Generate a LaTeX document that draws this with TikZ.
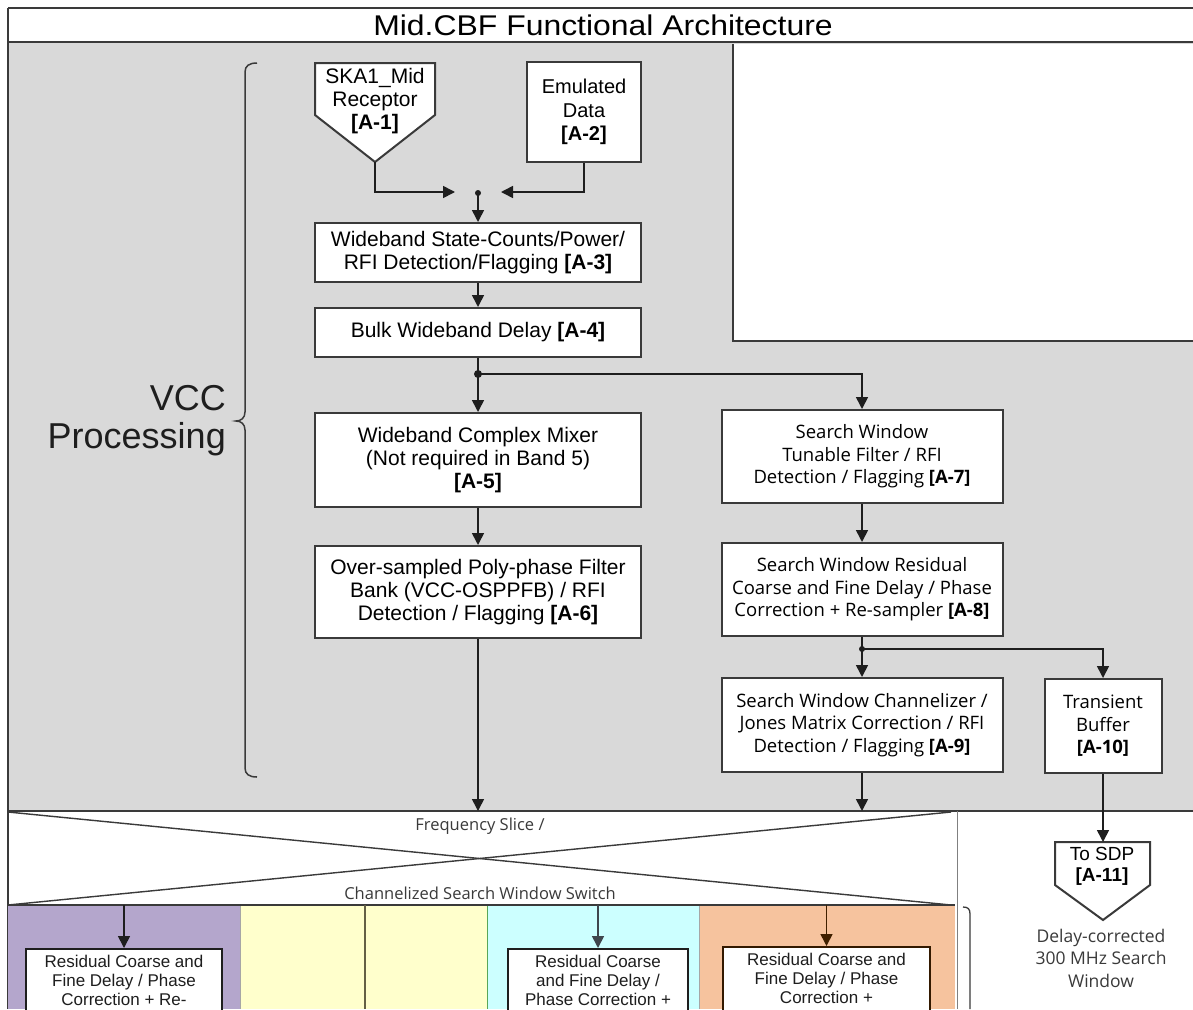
\documentclass[tikz,border=0pt]{standalone}
\usepackage{fontspec}
\setmainfont{Liberation Sans}
\newfontfamily\osans{Open Sans}
\newfontfamily\titlefont[FakeStretch=1.12]{Liberation Sans}
\usetikzlibrary{arrows.meta}
\definecolor{bggray}{HTML}{D9D9D9}
\definecolor{edge}{HTML}{3A3A3A}
\definecolor{ink}{HTML}{1E1E1E}
\definecolor{purp}{HTML}{B4A6CC}
\definecolor{yell}{HTML}{FFFFCC}
\definecolor{cyn}{HTML}{CCFFFF}
\definecolor{orng}{HTML}{F6C39E}
\newcommand\fsMain{\fontsize{21}{23}\selectfont}
\newcommand\fsRight{\osans\fontsize{18.5}{22.5}\selectfont}
\newcommand\fsBot{\fontsize{17}{19}\selectfont}
\tikzset{
  blk/.style={draw=edge, line width=2pt, fill=white, align=center, inner sep=2pt, font=\fsMain},
  rblk/.style={blk, font=\fsRight},
  bblk/.style={draw=ink, line width=2pt, fill=white, inner sep=0pt},
  txt/.style={align=center, inner sep=0pt},
  arr/.style={draw=ink, line width=1.6pt, -{Triangle[width=12pt,length=12pt]}},
  plain/.style={draw=ink, line width=1.6pt},
  frame/.style={draw=edge, line width=1.5pt},
  jdot/.style={fill=ink}
}
\begin{document}
\begin{tikzpicture}[x=1pt,y=-1pt]
\useasboundingbox (0,0) rectangle (1193,1009);
\fill[white] (0,0) rectangle (1193,1009);
% gray VCC area
\fill[bggray] (8,42) rectangle (1193,811);
\fill[white] (733,44) rectangle (1193,341);
\draw[frame] (1193,341) -- (733,341) -- (733,44);
% title strip
\draw[frame] (8,8) -- (1193,8);
\draw[frame] (8,42) -- (1193,42);
\draw[frame] (8,8) -- (8,1009);
\node[txt, font=\titlefont\fontsize{28.5}{30}\selectfont] (title) at (603,25) {Mid.CBF Functional Architecture};
% coloured columns
\fill[purp] (8,905) rectangle (240,1009);
\fill[yell] (240,905) rectangle (487,1009);
\fill[cyn] (487,905) rectangle (699,1009);
\fill[orng] (699,905) rectangle (955,1009);
\draw[draw=gray!70, line width=0.8pt] (240,905) -- (240,1009);
\draw[draw=gray!70!green, line width=0.8pt] (487,905) -- (487,1009);
\draw[draw=gray!70, line width=0.8pt] (699,905) -- (699,1009);
% switch region
\draw[frame] (8,811) -- (1193,811);
\draw[frame] (8,905) -- (955,905);
\draw[draw=edge, line width=1.4pt] (8,812) -- (951,905);
\draw[draw=edge, line width=1.4pt] (8,905) -- (951,812);
\draw[draw=gray, line width=1pt] (957,811) -- (957,1009);
\node[txt, font=\osans\fontsize{16.5}{19}\selectfont, text=edge] (fs) at (480,826) {Frequency Slice /};
\node[txt, font=\osans\fontsize{16.5}{19}\selectfont, text=edge] (csw) at (480,893) {Channelized Search Window Switch};
% bracket right of columns
\draw[draw=edge, line width=1.3pt] (963,907) .. controls (968,907) and (970,909) .. (970,914) -- (970,1009);
% VCC brace
\draw[draw=edge, line width=1.5pt] (257,63) .. controls (249,63) and (245,66) .. (245,72) -- (245,412) .. controls (245,418) and (241,421) .. (236,421) .. controls (241,421) and (245,424) .. (245,430) -- (245,768) .. controls (245,774) and (249,777) .. (257,777);
\node[txt, align=right, anchor=east, font=\fontsize{36}{38}\selectfont, text=ink] (vcc) at (226,421) {VCC\\Processing};
% A-1 pentagon
\filldraw[draw=edge, line width=2pt, fill=white] (315,63) -- (435,63) -- (435,115) -- (375,162) -- (315,115) -- cycle;
\coordinate (a1tip) at (375,162);
\node[txt, font=\fsMain] (a1) at (375,101) {SKA1\_Mid\\Receptor\\\textbf{[A-1]}};
% boxes
\node[blk, minimum width=114pt, minimum height=100pt, font=\fontsize{20}{23.5}\selectfont] (a2) at (584,112) {Emulated\\Data\\\textbf{[A-2]}};
\node[blk, minimum width=326pt, minimum height=59pt] (a3) at (478,252.5) {Wideband State-Counts/Power/\\RFI Detection/Flagging \textbf{[A-3]}};
\node[blk, minimum width=326pt, minimum height=49pt] (a4) at (478,332.5) {Bulk Wideband Delay \textbf{[A-4]}};
\node[blk, minimum width=326pt, minimum height=94pt] (a5) at (478,460) {Wideband Complex Mixer\\(Not required in Band 5)\\\textbf{[A-5]}};
\node[blk, minimum width=326pt, minimum height=92pt] (a6) at (478,592) {Over-sampled Poly-phase Filter\\Bank (VCC-OSPPFB) / RFI\\Detection / Flagging \textbf{[A-6]}};
\node[rblk, minimum width=281pt, minimum height=93pt] (a7) at (862,456.5) {Search Window\\Tunable Filter / RFI\\Detection / Flagging \textbf{[A-7]}};
\node[rblk, minimum width=281pt, minimum height=93pt] (a8) at (862,589.5) {Search Window Residual\\Coarse and Fine Delay / Phase\\Correction + Re-sampler \textbf{[A-8]}};
\node[rblk, minimum width=281pt, minimum height=94pt] (a9) at (862,725) {Search Window Channelizer /\\Jones Matrix Correction / RFI\\Detection / Flagging \textbf{[A-9]}};
\node[rblk, minimum width=117pt, minimum height=94pt] (a10) at (1103,726) {Transient\\Buffer\\\textbf{[A-10]}};
% A-11 pentagon
\filldraw[draw=edge, line width=2pt, fill=white] (1055,842) -- (1150,842) -- (1150,885) -- (1103,920) -- (1055,885) -- cycle;
\coordinate (a11top) at (1103,842);
\node[txt, font=\fontsize{19}{21}\selectfont] (a11) at (1102,866) {To SDP\\\textbf{[A-11]}};
\node[txt, font=\osans\fontsize{17.5}{22.5}\selectfont, text=edge] (dc) at (1101,958) {Delay-corrected\\300 MHz Search\\Window};
% junctions and connectors (top)
\coordinate (jl) at (455,192);
\coordinate (jr) at (501,192);
\coordinate (j1) at (478,193);
\draw[arr] (a1tip) |- (jl);
\draw[arr] (a2.south) |- (jr);
\fill[jdot] (j1) circle (3);
\draw[arr] (j1) -- (a3.north);
\draw[arr] (a3.south) -- (a4.north);
\coordinate (j2) at (478,374);
\draw[plain] (a4.south) -- (j2);
\fill[jdot] (j2) circle (4);
\draw[arr] (j2) -- (a5.north);
\draw[arr] (j2) -| (a7.north);
\draw[arr] (a5.south) -- (a6.north);
\coordinate (s1) at (478,811);
\draw[arr] (a6.south) -- (s1);
\draw[arr] (a7.south) -- (a8.north);
\coordinate (j3) at (862,649);
\draw[plain] (a8.south) -- (j3);
\fill[jdot] (j3) circle (3);
\draw[arr] (j3) -- (a9.north);
\draw[arr] (j3) -| (a10.north);
\coordinate (s2) at (862,811);
\draw[arr] (a9.south) -- (s2);
\draw[arr] (a10.south) -- (a11top);
% bottom boxes
\node[bblk, minimum width=196pt, minimum height=90pt, anchor=north] (b1) at (124,948) {};
\node[txt, font=\fsBot, text=ink] (b1t) at (124,980) {Residual Coarse and\\Fine Delay / Phase\\Correction + Re-};
\node[bblk, minimum width=180pt, minimum height=90pt, anchor=north] (b3) at (598,948) {};
\node[txt, font=\fsBot, text=ink] (b3t) at (598,980) {Residual Coarse\\and Fine Delay /\\Phase Correction +};
\node[bblk, draw=black!80!orange, minimum width=207pt, minimum height=92pt, anchor=north] (b4) at (826.5,946) {};
\node[txt, font=\fsBot, text=ink] (b4t) at (826.5,978) {Residual Coarse and\\Fine Delay / Phase\\Correction +};
\coordinate (t1) at (124,905);
\coordinate (t2) at (365,905);
\coordinate (t2e) at (365,1009);
\coordinate (t3) at (598,905);
\coordinate (t4) at (826.5,905);
\draw[arr] (t1) -- (b1.north);
\draw[plain, draw=black!70!yellow, line width=1.2pt] (t2) -- (t2e);
\draw[arr, draw=black!80!cyan] (t3) -- (b3.north);
\draw[arr, draw=black!75!orange] (t4) -- (b4.north);
\end{tikzpicture}
\end{document}
